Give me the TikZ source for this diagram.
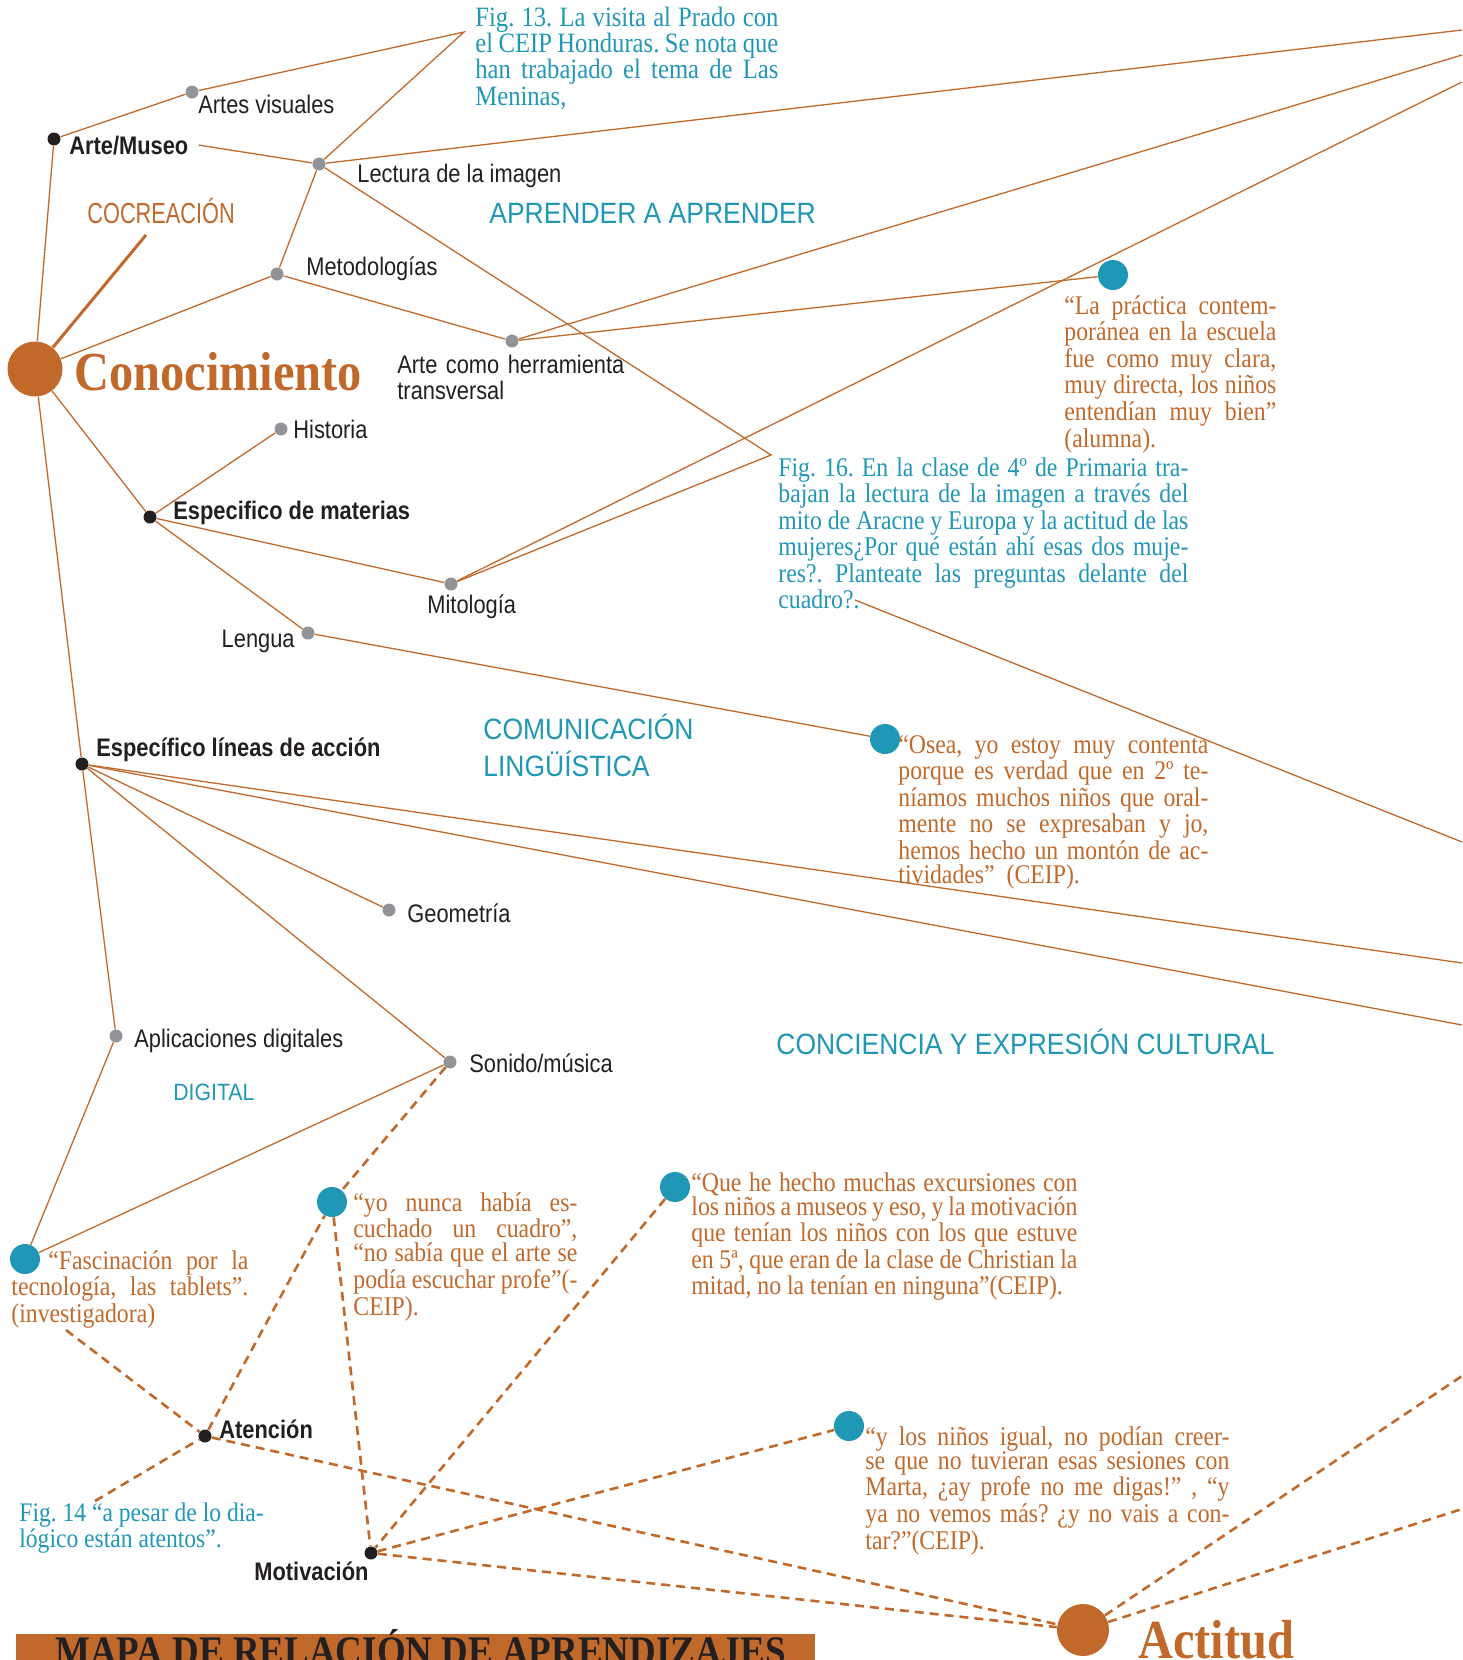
\documentclass[tikz,border=0pt]{standalone}
\usepackage{fontspec}
\setmainfont{Liberation Serif}
\newfontfamily\lblfont[FakeStretch=0.86]{Liberation Sans}
\newfontfamily\compfont[FakeStretch=0.9]{Liberation Sans}
\newfontfamily\narrowfont[FakeStretch=0.75]{Liberation Sans}
\newfontfamily\txtfont[FakeStretch=0.88]{Liberation Serif}
\definecolor{ocre}{RGB}{193,105,43}
\definecolor{petrol}{RGB}{31,151,181}
\definecolor{dotgray}{RGB}{146,147,151}
\definecolor{dotink}{RGB}{35,31,32}
\newcommand{\jl}[1]{\makebox[\linewidth][s]{\spaceskip=0pt \xspaceskip=0pt #1}}
\lineskiplimit=-100pt
\frenchspacing

\begin{document}
\begin{tikzpicture}[x=0.5pt, y=-0.5pt,
    graydot/.style={circle, fill=dotgray, inner sep=0pt, minimum size=6.5pt},
    blackdot/.style={circle, fill=dotink, inner sep=0pt, minimum size=6.5pt},
    tealdot/.style={circle, fill=petrol, inner sep=0pt, minimum size=15pt},
    bigdot/.style={circle, fill=ocre, inner sep=0pt, minimum size=27.5pt},
    lbl/.style={anchor=base west, inner sep=0pt, text=dotink, font=\lblfont\fontsize{12.7}{13}\selectfont},
    boldlbl/.style={lbl, font=\lblfont\bfseries\fontsize{12.7}{13}\selectfont},
    comp/.style={anchor=base west, inner sep=0pt, text=petrol, font=\compfont\fontsize{14.7}{18.5}\selectfont},
    bigtext/.style={anchor=base west, inner sep=0pt, text=ocre, font=\txtfont\bfseries\fontsize{27.5}{30}\selectfont},
    quote/.style={anchor=base west, inner sep=0pt, align=justify, text=ocre, font=\txtfont\fontsize{13.5}{12.1}\selectfont},
    caption/.style={quote, text=petrol},
    link/.style={draw=ocre, line width=0.65pt},
    dlink/.style={draw=ocre, line width=1.3pt, dash pattern=on 4.5pt off 3pt}]
    \useasboundingbox (0,0) rectangle (1462,1660);
    \clip (0,0) rectangle (1462,1660);

    % Nodes
    \node (conoc) [bigdot] at (35,369) {};
    \node (conocL) [bigtext] at (74,390) {Conocimiento};
    \node (actitud) [bigdot, minimum size=26pt] at (1083,1630) {};
    \node (actitudL) [bigtext] at (1138,1658) {Actitud};

    \node (museo) [blackdot] at (54,139) {};
    \node (museoL) [boldlbl] at (69,154) {Arte/Museo};
    \node (visual) [graydot] at (192,92) {};
    \node (visualL) [lbl] at (198,113) {Artes visuales};
    \node (lectura) [graydot] at (319,164) {};
    \node (lecturaL) [lbl] at (357,182) {Lectura de la imagen};
    \node (metodo) [graydot] at (277,274) {};
    \node (metodoL) [lbl] at (306,275) {Metodologías};
    \node (herram) [graydot] at (512,341) {};
    \node (herramL) [lbl, text width=120pt, align=left] at (397,373) {Arte como herramienta\\transversal};
    \node (historia) [graydot] at (281,429) {};
    \node (historiaL) [lbl] at (293,438) {Historia};
    \node (materias) [blackdot] at (150,517) {};
    \node (materiasL) [boldlbl] at (173,519) {Especifico de materias};
    \node (mito) [graydot] at (451,584) {};
    \node (mitoL) [lbl] at (427,613) {Mitología};
    \node (lengua) [graydot] at (308,633) {};
    \node (lenguaL) [lbl, anchor=base east] at (295,647) {Lengua};
    \node (lineas) [blackdot] at (82,764) {};
    \node (lineasL) [boldlbl] at (96,756) {Específico líneas de acción};
    \node (geom) [graydot] at (389,910) {};
    \node (geomL) [lbl] at (407,922) {Geometría};
    \node (apps) [graydot] at (116,1036) {};
    \node (appsL) [lbl] at (134,1047) {Aplicaciones digitales};
    \node (sonido) [graydot] at (450,1062) {};
    \node (sonidoL) [lbl] at (469,1072) {Sonido/música};
    \node (atencion) [blackdot] at (205,1436) {};
    \node (atencionL) [boldlbl] at (219,1438) {Atención};
    \node (motiv) [blackdot] at (371,1553) {};
    \node (motivL) [boldlbl] at (254,1580) {Motivación};

    % Competencias
    \node (cocrea) [comp, text=ocre, font=\narrowfont\fontsize{14.5}{16}\selectfont] at (87,223) {COCREACIÓN};
    \node (aprender) [comp] at (489,223) {APRENDER A APRENDER};
    \node (comunic) [comp, text width=120pt, align=left] at (483,739) {COMUNICACIÓN\\LINGÜÍSTICA};
    \node (cultural) [comp] at (776,1054) {CONCIENCIA Y EXPRESIÓN CULTURAL};
    \node (digital) [comp, font=\compfont\fontsize{11.8}{14}\selectfont] at (173,1100) {DIGITAL};

    % Citas
    \node (q1) [tealdot] at (1113,275) {};
    \node (q1T) [quote, text width=106pt] at (1064,314) {\jl{“La práctica contem-}\\
        \jl{poránea en la escuela}\\ \jl{fue como muy clara,}\\
        \jl{muy directa, los niños}\\ \jl{entendían muy bien”}\\ (alumna).};
    \node (q2) [tealdot] at (885,739) {};
    \node (q2T) [quote, text width=155pt] at (898,753) {\jl{“Osea, yo estoy muy contenta}\\
        \jl{porque es verdad que en 2º te-}\\ \jl{níamos muchos niños que oral-}\\
        \jl{mente no se expresaban y jo,}\\ \jl{hemos hecho un montón de ac-}\\
        tividades”\ \ (CEIP).};
    \node (q3) [tealdot] at (25,1259) {};
    \node (q3T) [quote, text width=118.5pt] at (11,1269) {\jl{\hspace*{18.5pt}“Fascinación por la}\\
        \jl{tecnología, las tablets”.}\\ (investigadora)};
    \node (q4) [tealdot] at (332,1202) {};
    \node (q4T) [quote, text width=112pt] at (353,1211) {\jl{“yo nunca había es-}\\
        \jl{cuchado un cuadro”,}\\ \jl{“no sabía que el arte se}\\
        \jl{podía escuchar profe”(-}\\ CEIP).};
    \node (q5) [tealdot] at (675,1187) {};
    \node (q5T) [quote, text width=193pt] at (691,1191) {\jl{“Que he hecho muchas excursiones con}\\
        \jl{los niños a museos y eso, y la motivación}\\ \jl{que tenían los niños con los que estuve}\\
        \jl{en 5ª, que eran de la clase de Christian la}\\ mitad, no la tenían en ninguna”(CEIP).};
    \node (q6) [tealdot] at (849,1426) {};
    \node (q6T) [quote, text width=182pt] at (865,1445) {\jl{“y los niños igual, no podían creer-}\\
        \jl{se que no tuvieran esas sesiones con}\\ \jl{Marta, ¿ay profe no me digas!” , “y}\\
        \jl{ya no vemos más? ¿y no vais a con-}\\ tar?”(CEIP).};

    % Figuras
    \node (fig13) [caption, text width=151.5pt, font=\txtfont\fontsize{14}{13.2}\selectfont] at (475,26) {\jl{Fig. 13. La visita al Prado con}\\
        \jl{el CEIP Honduras. Se nota que}\\ \jl{han trabajado el tema de Las}\\ Meninas,};
    \node (fig16) [caption, text width=205pt] at (778,476) {\jl{Fig. 16. En la clase de 4º de Primaria tra-}\\
        \jl{bajan la lectura de la imagen a través del}\\ \jl{mito de Aracne y Europa y la actitud de las}\\
        \jl{mujeres¿Por qué están ahí esas dos muje-}\\ \jl{res?. Planteate las preguntas delante del}\\ cuadro?.};
    \node (fig14) [caption, text width=145pt, font=\txtfont\fontsize{13.4}{13}\selectfont] at (19,1521) {Fig. 14 “a pesar de lo dia-\\lógico están atentos”.};

    \node (titlebar) [fill=ocre, inner sep=0pt, anchor=north west, minimum width=399.5pt, minimum height=14pt] at (16,1634) {};
    \node (title) [bigtext, text=dotink, font=\txtfont\bfseries\fontsize{21}{24}\selectfont] at (55,1665) {MAPA DE RELACIÓN DE APRENDIZAJES};

    \coordinate (cocreaEnd) at (146,235);
    \coordinate (fig13c) at (464,32);
    \coordinate (fig16c) at (771,455);
    \coordinate (fig16end) at (855,600);
    \coordinate (q3end) at (66,1330);
    \coordinate (fig14top) at (95,1501);
    \coordinate (edgeA) at (1462,30);
    \coordinate (edgeB) at (1462,55);
    \coordinate (edgeC) at (1462,82);
    \coordinate (edgeD) at (1462,842);
    \coordinate (edgeE) at (1462,963);
    \coordinate (edgeF) at (1462,1025);
    \coordinate (edgeG) at (1462,1376);
    \coordinate (edgeH) at (1462,1509);

    % Connections
    \draw[link] (conoc) -- (museo);
    \draw[link, line width=1.5pt] (conoc) -- (cocreaEnd);
    \draw[link] (conoc) -- (metodo);
    \draw[link] (conoc) -- (materias);
    \draw[link] (conoc) -- (lineas);
    \draw[link] (museo) -- (visual);
    \draw[link] ([xshift=5pt]museoL.east) -- (lectura);
    \draw[link] (visual) -- (fig13c) -- (lectura);
    \draw[link] (lectura) -- (metodo);
    \draw[link] (lectura) -- (edgeA);
    \draw[link] (lectura) -- (fig16c) -- (mito);
    \draw[link] (metodo) -- (herram);
    \draw[link] (herram) -- (q1);
    \draw[link] (herram) -- (edgeB);
    \draw[link] (mito) -- (edgeC);
    \draw[link] (materias) -- (historia);
    \draw[link] (materias) -- (mito);
    \draw[link] (materias) -- (lengua);
    \draw[link] (lengua) -- (q2);
    \draw[link] (fig16end) -- (edgeD);
    \draw[link] (lineas) -- (geom);
    \draw[link] (lineas) -- (sonido);
    \draw[link] (lineas) -- (apps);
    \draw[link] (lineas) -- (edgeE);
    \draw[link] (lineas) -- (edgeF);
    \draw[link] (apps) -- (q3);
    \draw[link] (sonido) -- (q3);

    \draw[dlink] (sonido) -- (q4);
    \draw[dlink] (q3end) -- (atencion);
    \draw[dlink] (fig14top) -- (atencion);
    \draw[dlink] (atencion) -- (q4);
    \draw[dlink] (atencion) -- (actitud);
    \draw[dlink] (q4) -- (motiv);
    \draw[dlink] (q5) -- (motiv);
    \draw[dlink] (motiv) -- (q6);
    \draw[dlink] (motiv) -- (actitud);
    \draw[dlink] (actitud) -- (edgeG);
    \draw[dlink] (actitud) -- (edgeH);
\end{tikzpicture}
\end{document}
